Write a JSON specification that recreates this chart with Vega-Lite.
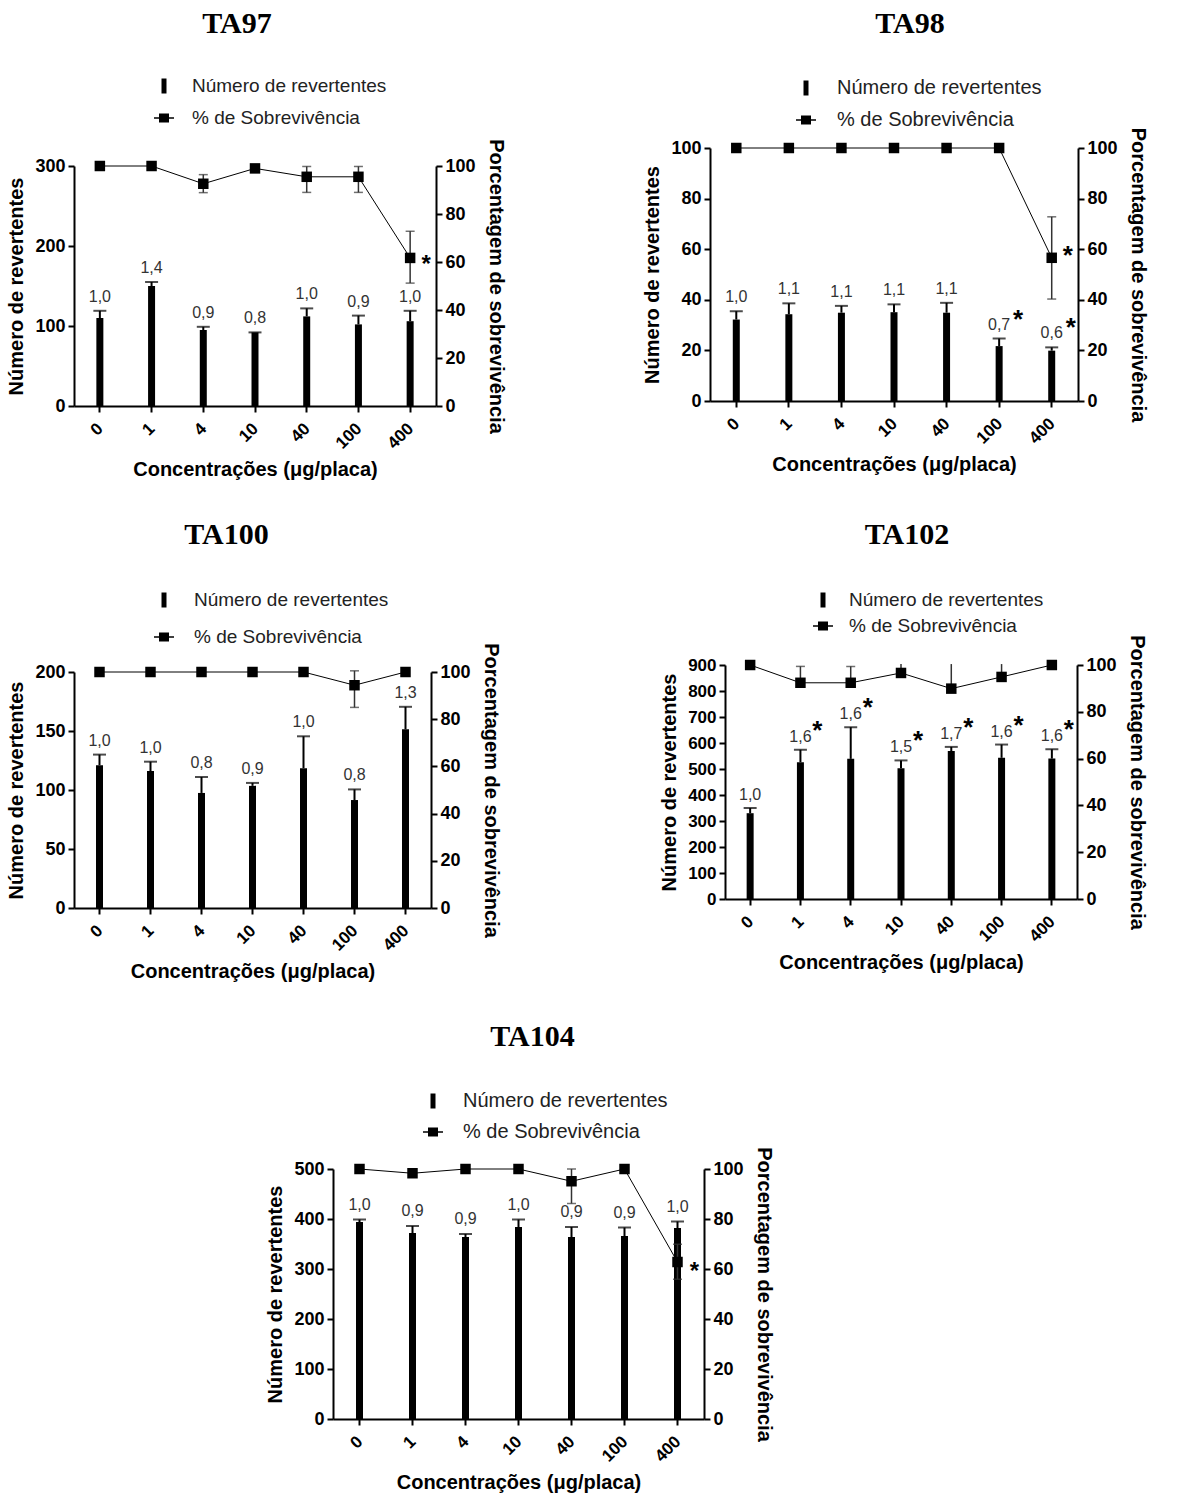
{
  "$schema": "https://vega.github.io/schema/vega-lite/v6.json",
  "padding": {"left": 6, "top": 9, "right": 5, "bottom": 5},
  "background": "white",
  "config": {
    "font": "Liberation Sans",
    "view": {"stroke": null},
    "axis": {"grid": false, "domainColor": "black", "domainWidth": 2, "tickColor": "black", "tickWidth": 2, "tickSize": 6,
      "labelFont": "Liberation Sans", "labelFontWeight": "bold", "labelFontSize": 18, "labelColor": "black", "labelPadding": 3, "labelOverlap": false,
      "titleFont": "Liberation Sans", "titleFontWeight": "bold", "titleFontSize": 20, "titleColor": "black"},
    "axisX": {"labelFontSize": 17, "labelAngle": -45, "labelPadding": 8, "labelOffset": -5, "titlePadding": 8},
    "axisLeft": {"titlePadding": 8, "labelOverlap": false},
    "axisRight": {"titlePadding": 10},
    "legend": {"padding": 0, "labelFont": "Liberation Sans", "labelColor": "#222", "labelLimit": 0, "symbolSize": 400, "symbolStrokeWidth": 0, "symbolFillColor": "black", "symbolOpacity": 1},
    "title": {"font": "Liberation Serif", "fontSize": 30, "fontWeight": "bold", "color": "black", "anchor": "middle", "frame": "group"}
  },
  "resolve": {"scale": {"shape": "independent"}, "legend": {"shape": "independent"}},
  "datasets": {
    "leg": [{"serie": "Número de revertentes"}, {"serie": "% de Sobrevivência"}],
    "ta97": [
      {"conc": "0", "n": 110, "nhi": 119, "lab": "1,0", "sig": "", "surv": 100, "slo": 100, "shi": 100, "ssig": ""},
      {"conc": "1", "n": 150, "nhi": 155, "lab": "1,4", "sig": "", "surv": 100, "slo": 100, "shi": 100, "ssig": ""},
      {"conc": "4", "n": 95, "nhi": 99, "lab": "0,9", "sig": "", "surv": 92.6, "slo": 88.9, "shi": 96.4, "ssig": ""},
      {"conc": "10", "n": 92, "nhi": 92, "lab": "0,8", "sig": "", "surv": 99, "slo": 99, "shi": 99, "ssig": ""},
      {"conc": "40", "n": 112, "nhi": 122, "lab": "1,0", "sig": "", "surv": 95.5, "slo": 89, "shi": 99.8, "ssig": ""},
      {"conc": "100", "n": 102, "nhi": 113, "lab": "0,9", "sig": "", "surv": 95.5, "slo": 89, "shi": 99.8, "ssig": ""},
      {"conc": "400", "n": 106, "nhi": 119, "lab": "1,0", "sig": "", "surv": 61.7, "slo": 51.2, "shi": 72.8, "ssig": "*"}
    ],
    "ta98": [
      {"conc": "0", "n": 32.2, "nhi": 35.5, "lab": "1,0", "sig": "", "surv": 100, "slo": 100, "shi": 100, "ssig": ""},
      {"conc": "1", "n": 34.3, "nhi": 38.6, "lab": "1,1", "sig": "", "surv": 100, "slo": 100, "shi": 100, "ssig": ""},
      {"conc": "4", "n": 34.9, "nhi": 37.6, "lab": "1,1", "sig": "", "surv": 100, "slo": 100, "shi": 100, "ssig": ""},
      {"conc": "10", "n": 35.1, "nhi": 38.2, "lab": "1,1", "sig": "", "surv": 100, "slo": 100, "shi": 100, "ssig": ""},
      {"conc": "40", "n": 34.9, "nhi": 38.8, "lab": "1,1", "sig": "", "surv": 100, "slo": 100, "shi": 100, "ssig": ""},
      {"conc": "100", "n": 21.7, "nhi": 24.7, "lab": "0,7", "sig": "*", "surv": 100, "slo": 100, "shi": 100, "ssig": ""},
      {"conc": "400", "n": 19.9, "nhi": 21.2, "lab": "0,6", "sig": "*", "surv": 56.6, "slo": 40.3, "shi": 72.8, "ssig": "*"}
    ],
    "ta100": [
      {"conc": "0", "n": 121, "nhi": 130, "lab": "1,0", "sig": "", "surv": 100, "slo": 100, "shi": 100, "ssig": ""},
      {"conc": "1", "n": 116, "nhi": 124, "lab": "1,0", "sig": "", "surv": 100, "slo": 100, "shi": 100, "ssig": ""},
      {"conc": "4", "n": 97.5, "nhi": 111, "lab": "0,8", "sig": "", "surv": 100, "slo": 100, "shi": 100, "ssig": ""},
      {"conc": "10", "n": 103.5, "nhi": 106, "lab": "0,9", "sig": "", "surv": 100, "slo": 100, "shi": 100, "ssig": ""},
      {"conc": "40", "n": 118.5, "nhi": 145.5, "lab": "1,0", "sig": "", "surv": 100, "slo": 100, "shi": 100, "ssig": ""},
      {"conc": "100", "n": 91.5, "nhi": 100.5, "lab": "0,8", "sig": "", "surv": 94.4, "slo": 85, "shi": 100.5, "ssig": ""},
      {"conc": "400", "n": 151.5, "nhi": 170.5, "lab": "1,3", "sig": "", "surv": 100, "slo": 100, "shi": 100, "ssig": ""}
    ],
    "ta102": [
      {"conc": "0", "n": 330, "nhi": 350, "lab": "1,0", "sig": "", "surv": 100, "slo": 100, "shi": 100, "ssig": ""},
      {"conc": "1", "n": 526, "nhi": 574, "lab": "1,6", "sig": "*", "surv": 92.4, "slo": 92.4, "shi": 99.4, "ssig": ""},
      {"conc": "4", "n": 539, "nhi": 661, "lab": "1,6", "sig": "*", "surv": 92.4, "slo": 92.4, "shi": 99.4, "ssig": ""},
      {"conc": "10", "n": 503, "nhi": 533, "lab": "1,5", "sig": "*", "surv": 96.6, "slo": 96.6, "shi": 100.4, "ssig": ""},
      {"conc": "40", "n": 569, "nhi": 585, "lab": "1,7", "sig": "*", "surv": 89.9, "slo": 89.9, "shi": 100.4, "ssig": ""},
      {"conc": "100", "n": 543, "nhi": 594, "lab": "1,6", "sig": "*", "surv": 94.9, "slo": 94.9, "shi": 100.4, "ssig": ""},
      {"conc": "400", "n": 540, "nhi": 576, "lab": "1,6", "sig": "*", "surv": 100, "slo": 100, "shi": 100, "ssig": ""}
    ],
    "ta104": [
      {"conc": "0", "n": 394, "nhi": 399, "lab": "1,0", "sig": "", "surv": 100, "slo": 100, "shi": 100, "ssig": ""},
      {"conc": "1", "n": 372, "nhi": 386, "lab": "0,9", "sig": "", "surv": 98.3, "slo": 98.3, "shi": 98.3, "ssig": ""},
      {"conc": "4", "n": 364, "nhi": 370, "lab": "0,9", "sig": "", "surv": 100, "slo": 100, "shi": 100, "ssig": ""},
      {"conc": "10", "n": 384, "nhi": 399, "lab": "1,0", "sig": "", "surv": 100, "slo": 100, "shi": 100, "ssig": ""},
      {"conc": "40", "n": 364, "nhi": 384, "lab": "0,9", "sig": "", "surv": 95.1, "slo": 86.2, "shi": 100, "ssig": ""},
      {"conc": "100", "n": 366, "nhi": 383, "lab": "0,9", "sig": "", "surv": 100, "slo": 100, "shi": 100, "ssig": ""},
      {"conc": "400", "n": 382, "nhi": 395, "lab": "1,0", "sig": "", "surv": 62.8, "slo": 55.9, "shi": 69.9, "ssig": "*"}
    ]
  },
  "spacing": 40,
  "vconcat": [
    {
      "spacing": 136,
      "resolve": {"scale": {"shape": "independent"}, "legend": {"shape": "independent"}},
      "hconcat": [
        {
          "width": 362, "height": 258,
          "title": {"text": "TA97", "dx": -18, "offset": 37},
          "data": {"name": "ta97"},
          "resolve": {"scale": {"y": "independent"}},
          "layer": [
            {"layer": [
              {"mark": {"type": "bar", "width": 7, "color": "black"},
               "encoding": {"x": {"field": "conc", "type": "nominal", "sort": null, "scale": {"paddingInner": 0, "paddingOuter": 0}, "axis": {"title": "Concentrações (μg/placa)"}},
                 "y": {"field": "n", "type": "quantitative", "scale": {"domain": [0, 300], "range": [258, 18], "nice": false}, "axis": {"values": [0, 100, 200, 300], "title": "Número de revertentes"}}}},
              {"mark": {"type": "rule", "color": "black", "strokeWidth": 2},
               "encoding": {"x": {"field": "conc", "type": "nominal", "sort": null}, "y": {"field": "n", "type": "quantitative"}, "y2": {"field": "nhi"}}},
              {"mark": {"type": "tick", "color": "black", "size": 13, "thickness": 2},
               "encoding": {"x": {"field": "conc", "type": "nominal", "sort": null}, "y": {"field": "nhi", "type": "quantitative"}}},
              {"mark": {"type": "text", "dy": -9, "baseline": "alphabetic", "fontSize": 16, "color": "#333"},
               "encoding": {"x": {"field": "conc", "type": "nominal", "sort": null}, "y": {"field": "nhi", "type": "quantitative"}, "text": {"field": "lab"}}},
              {"mark": {"type": "text", "dx": 17, "dy": -11, "baseline": "alphabetic", "fontSize": 26, "fontWeight": "bold", "color": "black"},
               "encoding": {"x": {"field": "conc", "type": "nominal", "sort": null}, "y": {"field": "nhi", "type": "quantitative"}, "text": {"field": "sig"}}},
              {"data": {"name": "leg"}, "mark": {"type": "point", "filled": true, "color": "black", "size": 0},
               "encoding": {"shape": {"field": "serie", "type": "nominal",
                 "scale": {"domain": ["Número de revertentes", "% de Sobrevivência"], "range": ["M-0.25,-0.75H0.25V0.75H-0.25Z", "M-1,-0.07H1V0.07H-1Z M-0.5,-0.45H0.5V0.45H-0.5Z"]},
                 "legend": {"title": null, "orient": "none", "legendX": 80, "legendY": -72, "rowPadding": 12, "labelOffset": 18, "labelFontSize": 19, "symbolSize": 400, "symbolOpacity": 1, "symbolFillColor": "black"}}}}
            ]},
            {"layer": [
              {"mark": {"type": "line", "color": "black", "strokeWidth": 1},
               "encoding": {"x": {"field": "conc", "type": "nominal", "sort": null},
                 "y": {"field": "surv", "type": "quantitative", "scale": {"domain": [0, 100], "range": [258, 18], "nice": false}, "axis": {"orient": "right", "values": [0, 20, 40, 60, 80, 100], "title": "Porcentagem de sobrevivência"}}}},
              {"transform": [{"filter": "datum.shi > datum.slo"}], "mark": {"type": "rule", "color": "#333", "strokeWidth": 1.5},
               "encoding": {"x": {"field": "conc", "type": "nominal", "sort": null}, "y": {"field": "slo", "type": "quantitative"}, "y2": {"field": "shi"}}},
              {"transform": [{"filter": "datum.shi > datum.slo"}], "mark": {"type": "tick", "color": "#333", "size": 9, "thickness": 1.5},
               "encoding": {"x": {"field": "conc", "type": "nominal", "sort": null}, "y": {"field": "shi", "type": "quantitative"}}},
              {"transform": [{"filter": "datum.shi > datum.slo"}], "mark": {"type": "tick", "color": "#333", "size": 9, "thickness": 1.5},
               "encoding": {"x": {"field": "conc", "type": "nominal", "sort": null}, "y": {"field": "slo", "type": "quantitative"}}},
              {"mark": {"type": "point", "shape": "square", "filled": true, "color": "black", "size": 110, "opacity": 1},
               "encoding": {"x": {"field": "conc", "type": "nominal", "sort": null}, "y": {"field": "surv", "type": "quantitative"}}},
              {"mark": {"type": "text", "dx": 16, "dy": 14, "baseline": "alphabetic", "fontSize": 24, "fontWeight": "bold", "color": "black"},
               "encoding": {"x": {"field": "conc", "type": "nominal", "sort": null}, "y": {"field": "surv", "type": "quantitative"}, "text": {"field": "ssig"}}}
            ]}
          ]
        },
        {
          "width": 368, "height": 253,
          "title": {"text": "TA98", "dx": 16, "offset": 39},
          "data": {"name": "ta98"},
          "resolve": {"scale": {"y": "independent"}},
          "layer": [
            {"layer": [
              {"mark": {"type": "bar", "width": 7, "color": "black"},
               "encoding": {"x": {"field": "conc", "type": "nominal", "sort": null, "scale": {"paddingInner": 0, "paddingOuter": 0}, "axis": {"title": "Concentrações (μg/placa)"}},
                 "y": {"field": "n", "type": "quantitative", "scale": {"domain": [0, 100], "range": [253, 0], "nice": false}, "axis": {"values": [0, 20, 40, 60, 80, 100], "title": "Número de revertentes"}}}},
              {"mark": {"type": "rule", "color": "black", "strokeWidth": 2},
               "encoding": {"x": {"field": "conc", "type": "nominal", "sort": null}, "y": {"field": "n", "type": "quantitative"}, "y2": {"field": "nhi"}}},
              {"mark": {"type": "tick", "color": "black", "size": 13, "thickness": 2},
               "encoding": {"x": {"field": "conc", "type": "nominal", "sort": null}, "y": {"field": "nhi", "type": "quantitative"}}},
              {"mark": {"type": "text", "dy": -9, "baseline": "alphabetic", "fontSize": 16, "color": "#333"},
               "encoding": {"x": {"field": "conc", "type": "nominal", "sort": null}, "y": {"field": "nhi", "type": "quantitative"}, "text": {"field": "lab"}}},
              {"mark": {"type": "text", "dx": 19, "dy": -11, "baseline": "alphabetic", "fontSize": 26, "fontWeight": "bold", "color": "black"},
               "encoding": {"x": {"field": "conc", "type": "nominal", "sort": null}, "y": {"field": "nhi", "type": "quantitative"}, "text": {"field": "sig"}}},
              {"data": {"name": "leg"}, "mark": {"type": "point", "filled": true, "color": "black", "size": 0},
               "encoding": {"shape": {"field": "serie", "type": "nominal",
                 "scale": {"domain": ["Número de revertentes", "% de Sobrevivência"], "range": ["M-0.25,-0.75H0.25V0.75H-0.25Z", "M-1,-0.07H1V0.07H-1Z M-0.5,-0.45H0.5V0.45H-0.5Z"]},
                 "legend": {"title": null, "orient": "none", "legendX": 86, "legendY": -70, "rowPadding": 12, "labelOffset": 21, "labelFontSize": 20, "symbolSize": 400, "symbolOpacity": 1, "symbolFillColor": "black"}}}}
            ]},
            {"layer": [
              {"mark": {"type": "line", "color": "black", "strokeWidth": 1},
               "encoding": {"x": {"field": "conc", "type": "nominal", "sort": null},
                 "y": {"field": "surv", "type": "quantitative", "scale": {"domain": [0, 100], "range": [253, 0], "nice": false}, "axis": {"orient": "right", "values": [0, 20, 40, 60, 80, 100], "title": "Porcentagem de sobrevivência"}}}},
              {"transform": [{"filter": "datum.shi > datum.slo"}], "mark": {"type": "rule", "color": "#333", "strokeWidth": 1.5},
               "encoding": {"x": {"field": "conc", "type": "nominal", "sort": null}, "y": {"field": "slo", "type": "quantitative"}, "y2": {"field": "shi"}}},
              {"transform": [{"filter": "datum.shi > datum.slo"}], "mark": {"type": "tick", "color": "#333", "size": 9, "thickness": 1.5},
               "encoding": {"x": {"field": "conc", "type": "nominal", "sort": null}, "y": {"field": "shi", "type": "quantitative"}}},
              {"transform": [{"filter": "datum.shi > datum.slo"}], "mark": {"type": "tick", "color": "#333", "size": 9, "thickness": 1.5},
               "encoding": {"x": {"field": "conc", "type": "nominal", "sort": null}, "y": {"field": "slo", "type": "quantitative"}}},
              {"mark": {"type": "point", "shape": "square", "filled": true, "color": "black", "size": 110, "opacity": 1},
               "encoding": {"x": {"field": "conc", "type": "nominal", "sort": null}, "y": {"field": "surv", "type": "quantitative"}}},
              {"mark": {"type": "text", "dx": 16, "dy": 6, "baseline": "alphabetic", "fontSize": 26, "fontWeight": "bold", "color": "black"},
               "encoding": {"x": {"field": "conc", "type": "nominal", "sort": null}, "y": {"field": "surv", "type": "quantitative"}, "text": {"field": "ssig"}}}
            ]}
          ]
        }
      ]
    },
    {
      "spacing": 158,
      "resolve": {"scale": {"shape": "independent"}, "legend": {"shape": "independent"}},
      "hconcat": [
        {
          "width": 357, "height": 243,
          "title": {"text": "TA100", "dx": -26, "offset": 40},
          "data": {"name": "ta100"},
          "resolve": {"scale": {"y": "independent"}},
          "layer": [
            {"layer": [
              {"mark": {"type": "bar", "width": 7, "color": "black"},
               "encoding": {"x": {"field": "conc", "type": "nominal", "sort": null, "scale": {"paddingInner": 0, "paddingOuter": 0}, "axis": {"title": "Concentrações (μg/placa)"}},
                 "y": {"field": "n", "type": "quantitative", "scale": {"domain": [0, 200], "range": [243, 7], "nice": false}, "axis": {"values": [0, 50, 100, 150, 200], "title": "Número de revertentes"}}}},
              {"mark": {"type": "rule", "color": "black", "strokeWidth": 2},
               "encoding": {"x": {"field": "conc", "type": "nominal", "sort": null}, "y": {"field": "n", "type": "quantitative"}, "y2": {"field": "nhi"}}},
              {"mark": {"type": "tick", "color": "black", "size": 13, "thickness": 2},
               "encoding": {"x": {"field": "conc", "type": "nominal", "sort": null}, "y": {"field": "nhi", "type": "quantitative"}}},
              {"mark": {"type": "text", "dy": -9, "baseline": "alphabetic", "fontSize": 16, "color": "#333"},
               "encoding": {"x": {"field": "conc", "type": "nominal", "sort": null}, "y": {"field": "nhi", "type": "quantitative"}, "text": {"field": "lab"}}},
              {"data": {"name": "leg"}, "mark": {"type": "point", "filled": true, "color": "black", "size": 0},
               "encoding": {"shape": {"field": "serie", "type": "nominal",
                 "scale": {"domain": ["Número de revertentes", "% de Sobrevivência"], "range": ["M-0.25,-0.75H0.25V0.75H-0.25Z", "M-1,-0.07H1V0.07H-1Z M-0.5,-0.45H0.5V0.45H-0.5Z"]},
                 "legend": {"title": null, "orient": "none", "legendX": 80, "legendY": -75, "rowPadding": 17, "labelOffset": 20, "labelFontSize": 19, "symbolSize": 400, "symbolOpacity": 1, "symbolFillColor": "black"}}}}
            ]},
            {"layer": [
              {"mark": {"type": "line", "color": "black", "strokeWidth": 1},
               "encoding": {"x": {"field": "conc", "type": "nominal", "sort": null},
                 "y": {"field": "surv", "type": "quantitative", "scale": {"domain": [0, 100], "range": [243, 7], "nice": false}, "axis": {"orient": "right", "values": [0, 20, 40, 60, 80, 100], "title": "Porcentagem de sobrevivência"}}}},
              {"transform": [{"filter": "datum.shi > datum.slo"}], "mark": {"type": "rule", "color": "#333", "strokeWidth": 1.5},
               "encoding": {"x": {"field": "conc", "type": "nominal", "sort": null}, "y": {"field": "slo", "type": "quantitative"}, "y2": {"field": "shi"}}},
              {"transform": [{"filter": "datum.shi > datum.slo"}], "mark": {"type": "tick", "color": "#333", "size": 9, "thickness": 1.5},
               "encoding": {"x": {"field": "conc", "type": "nominal", "sort": null}, "y": {"field": "shi", "type": "quantitative"}}},
              {"transform": [{"filter": "datum.shi > datum.slo"}], "mark": {"type": "tick", "color": "#333", "size": 9, "thickness": 1.5},
               "encoding": {"x": {"field": "conc", "type": "nominal", "sort": null}, "y": {"field": "slo", "type": "quantitative"}}},
              {"mark": {"type": "point", "shape": "square", "filled": true, "color": "black", "size": 110, "opacity": 1},
               "encoding": {"x": {"field": "conc", "type": "nominal", "sort": null}, "y": {"field": "surv", "type": "quantitative"}}}
            ]}
          ]
        },
        {
          "width": 352, "height": 234,
          "title": {"text": "TA102", "dx": 6, "offset": 40},
          "data": {"name": "ta102"},
          "resolve": {"scale": {"y": "independent"}},
          "layer": [
            {"layer": [
              {"mark": {"type": "bar", "width": 7, "color": "black"},
               "encoding": {"x": {"field": "conc", "type": "nominal", "sort": null, "scale": {"paddingInner": 0, "paddingOuter": 0}, "axis": {"title": "Concentrações (μg/placa)"}},
                 "y": {"field": "n", "type": "quantitative", "scale": {"domain": [0, 900], "range": [234, 0], "nice": false}, "axis": {"values": [0, 100, 200, 300, 400, 500, 600, 700, 800, 900], "tickCount": 10, "labelOverlap": false, "labelFontSize": 17, "title": "Número de revertentes"}}}},
              {"mark": {"type": "rule", "color": "black", "strokeWidth": 2},
               "encoding": {"x": {"field": "conc", "type": "nominal", "sort": null}, "y": {"field": "n", "type": "quantitative", "axis": {"values": [0, 100, 200, 300, 400, 500, 600, 700, 800, 900], "tickCount": 10, "labelOverlap": false, "labelFontSize": 17, "title": "Número de revertentes"}}, "y2": {"field": "nhi"}}},
              {"mark": {"type": "tick", "color": "black", "size": 13, "thickness": 2},
               "encoding": {"x": {"field": "conc", "type": "nominal", "sort": null}, "y": {"field": "nhi", "type": "quantitative", "axis": {"values": [0, 100, 200, 300, 400, 500, 600, 700, 800, 900], "tickCount": 10, "labelOverlap": false, "labelFontSize": 17, "title": "Número de revertentes"}}}},
              {"mark": {"type": "text", "dy": -8, "baseline": "alphabetic", "fontSize": 16, "color": "#333"},
               "encoding": {"x": {"field": "conc", "type": "nominal", "sort": null}, "y": {"field": "nhi", "type": "quantitative", "axis": {"values": [0, 100, 200, 300, 400, 500, 600, 700, 800, 900], "tickCount": 10, "labelOverlap": false, "labelFontSize": 17, "title": "Número de revertentes"}}, "text": {"field": "lab"}}},
              {"mark": {"type": "text", "dx": 17, "dy": -11, "baseline": "alphabetic", "fontSize": 26, "fontWeight": "bold", "color": "black"},
               "encoding": {"x": {"field": "conc", "type": "nominal", "sort": null}, "y": {"field": "nhi", "type": "quantitative", "axis": {"values": [0, 100, 200, 300, 400, 500, 600, 700, 800, 900], "tickCount": 10, "labelOverlap": false, "labelFontSize": 17, "title": "Número de revertentes"}}, "text": {"field": "sig"}}},
              {"data": {"name": "leg"}, "mark": {"type": "point", "filled": true, "color": "black", "size": 0},
               "encoding": {"shape": {"field": "serie", "type": "nominal",
                 "scale": {"domain": ["Número de revertentes", "% de Sobrevivência"], "range": ["M-0.25,-0.75H0.25V0.75H-0.25Z", "M-1,-0.07H1V0.07H-1Z M-0.5,-0.45H0.5V0.45H-0.5Z"]},
                 "legend": {"title": null, "orient": "none", "legendX": 88, "legendY": -75, "rowPadding": 6, "labelOffset": 16, "labelFontSize": 19, "symbolSize": 400, "symbolOpacity": 1, "symbolFillColor": "black"}}}}
            ]},
            {"layer": [
              {"mark": {"type": "line", "color": "black", "strokeWidth": 1},
               "encoding": {"x": {"field": "conc", "type": "nominal", "sort": null},
                 "y": {"field": "surv", "type": "quantitative", "scale": {"domain": [0, 100], "range": [234, 0], "nice": false}, "axis": {"orient": "right", "values": [0, 20, 40, 60, 80, 100], "title": "Porcentagem de sobrevivência"}}}},
              {"transform": [{"filter": "datum.shi > datum.slo"}], "mark": {"type": "rule", "color": "#333", "strokeWidth": 1.5},
               "encoding": {"x": {"field": "conc", "type": "nominal", "sort": null}, "y": {"field": "slo", "type": "quantitative"}, "y2": {"field": "shi"}}},
              {"transform": [{"filter": "datum.shi > datum.slo && datum.shi < 100"}], "mark": {"type": "tick", "color": "#333", "size": 9, "thickness": 1.5},
               "encoding": {"x": {"field": "conc", "type": "nominal", "sort": null}, "y": {"field": "shi", "type": "quantitative"}}},
              {"mark": {"type": "point", "shape": "square", "filled": true, "color": "black", "size": 110, "opacity": 1},
               "encoding": {"x": {"field": "conc", "type": "nominal", "sort": null}, "y": {"field": "surv", "type": "quantitative"}}}
            ]}
          ]
        }
      ]
    },
    {
      "spacing": 10,
      "resolve": {"scale": {"shape": "independent"}, "legend": {"shape": "independent"}},
      "hconcat": [
        {"width": 181, "height": 10, "data": {"values": []}, "mark": "point"},
        {
          "width": 371, "height": 250,
          "title": {"text": "TA104", "dx": 14, "offset": 39},
          "data": {"name": "ta104"},
          "resolve": {"scale": {"y": "independent"}},
          "layer": [
            {"layer": [
              {"mark": {"type": "bar", "width": 7, "color": "black"},
               "encoding": {"x": {"field": "conc", "type": "nominal", "sort": null, "scale": {"paddingInner": 0, "paddingOuter": 0}, "axis": {"title": "Concentrações (μg/placa)"}},
                 "y": {"field": "n", "type": "quantitative", "scale": {"domain": [0, 500], "range": [250, 0], "nice": false}, "axis": {"values": [0, 100, 200, 300, 400, 500], "title": "Número de revertentes"}}}},
              {"mark": {"type": "rule", "color": "black", "strokeWidth": 2},
               "encoding": {"x": {"field": "conc", "type": "nominal", "sort": null}, "y": {"field": "n", "type": "quantitative"}, "y2": {"field": "nhi"}}},
              {"mark": {"type": "tick", "color": "black", "size": 13, "thickness": 2},
               "encoding": {"x": {"field": "conc", "type": "nominal", "sort": null}, "y": {"field": "nhi", "type": "quantitative"}}},
              {"mark": {"type": "text", "dy": -10, "baseline": "alphabetic", "fontSize": 16, "color": "#333"},
               "encoding": {"x": {"field": "conc", "type": "nominal", "sort": null}, "y": {"field": "nhi", "type": "quantitative"}, "text": {"field": "lab"}}},
              {"data": {"name": "leg"}, "mark": {"type": "point", "filled": true, "color": "black", "size": 0},
               "encoding": {"shape": {"field": "serie", "type": "nominal",
                 "scale": {"domain": ["Número de revertentes", "% de Sobrevivência"], "range": ["M-0.25,-0.75H0.25V0.75H-0.25Z", "M-1,-0.07H1V0.07H-1Z M-0.5,-0.45H0.5V0.45H-0.5Z"]},
                 "legend": {"title": null, "orient": "none", "legendX": 90, "legendY": -78, "rowPadding": 11, "labelOffset": 20, "labelFontSize": 20, "symbolSize": 400, "symbolOpacity": 1, "symbolFillColor": "black"}}}}
            ]},
            {"layer": [
              {"mark": {"type": "line", "color": "black", "strokeWidth": 1},
               "encoding": {"x": {"field": "conc", "type": "nominal", "sort": null},
                 "y": {"field": "surv", "type": "quantitative", "scale": {"domain": [0, 100], "range": [250, 0], "nice": false}, "axis": {"orient": "right", "values": [0, 20, 40, 60, 80, 100], "title": "Porcentagem de sobrevivência"}}}},
              {"transform": [{"filter": "datum.shi > datum.slo"}], "mark": {"type": "rule", "color": "#333", "strokeWidth": 1.5},
               "encoding": {"x": {"field": "conc", "type": "nominal", "sort": null}, "y": {"field": "slo", "type": "quantitative"}, "y2": {"field": "shi"}}},
              {"transform": [{"filter": "datum.shi > datum.slo"}], "mark": {"type": "tick", "color": "#333", "size": 9, "thickness": 1.5},
               "encoding": {"x": {"field": "conc", "type": "nominal", "sort": null}, "y": {"field": "shi", "type": "quantitative"}}},
              {"transform": [{"filter": "datum.shi > datum.slo"}], "mark": {"type": "tick", "color": "#333", "size": 9, "thickness": 1.5},
               "encoding": {"x": {"field": "conc", "type": "nominal", "sort": null}, "y": {"field": "slo", "type": "quantitative"}}},
              {"mark": {"type": "point", "shape": "square", "filled": true, "color": "black", "size": 110, "opacity": 1},
               "encoding": {"x": {"field": "conc", "type": "nominal", "sort": null}, "y": {"field": "surv", "type": "quantitative"}}},
              {"mark": {"type": "text", "dx": 17, "dy": 17, "baseline": "alphabetic", "fontSize": 24, "fontWeight": "bold", "color": "black"},
               "encoding": {"x": {"field": "conc", "type": "nominal", "sort": null}, "y": {"field": "surv", "type": "quantitative"}, "text": {"field": "ssig"}}}
            ]}
          ]
        }
      ]
    }
  ]
}
